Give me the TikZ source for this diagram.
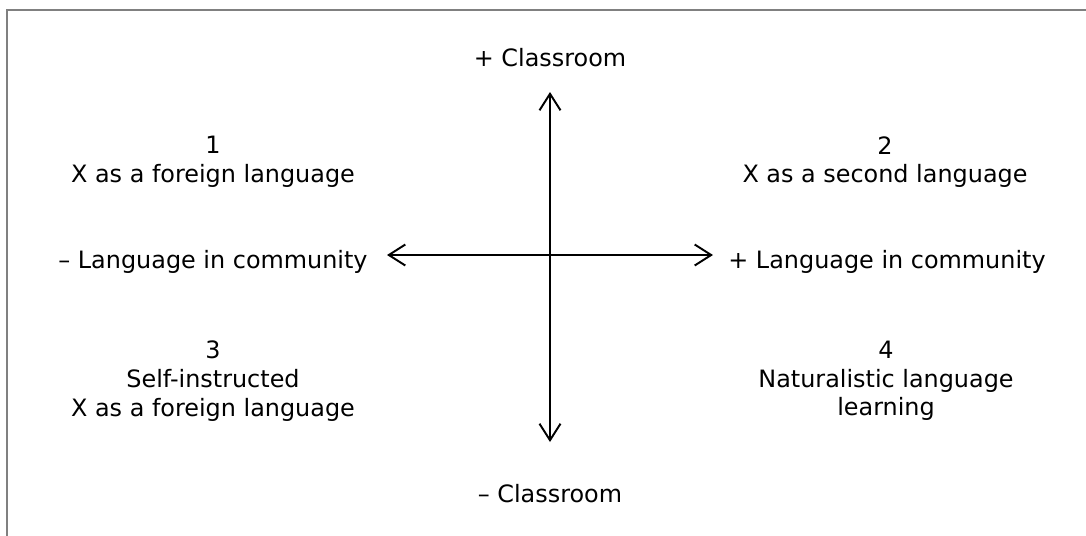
\documentclass[tikz,border=0pt]{standalone}
\usepackage{fontspec}
\setmainfont{DejaVu Sans}
\usetikzlibrary{arrows.meta}
\tikzset{
  quadtext/.style = {font = \fontsize{13.6}{16.3}\selectfont, align = center, inner sep = 0pt},
  axisarrow/.style = {line width = 1.1pt, {Straight Barb[length = 3.3mm, width = 4.2mm]}-{Straight Barb[length = 3.3mm, width = 4.2mm]}}
}
\begin{document}
\begin{tikzpicture}[x = 0.02cm, y = -0.02cm]
\useasboundingbox (0,0) rectangle (1086,535);
% frame, open on the right and at the bottom
\draw [draw = gray, line width = 0.04cm] (7,536) -- (7,10) -- (1087,10);
% the two axes
\coordinate (axtop) at (550,92);
\coordinate (axbottom) at (550,442);
\coordinate (axleft) at (387,255);
\coordinate (axright) at (713,255);
\draw [axisarrow] (axtop) -- (axbottom);
\draw [axisarrow] (axleft) -- (axright);
% axis labels
\node [quadtext] (plusclass) at (550,58) {+ Classroom};
\node [quadtext] (minusclass) at (550,494) {– Classroom};
\node [quadtext] (minuscomm) at (213,262) {– Language in community};
\node [quadtext] (pluscomm) at (887,262) {+ Language in community};
% the four quadrants
\node [quadtext] (quadone) at (213,162) {1\\X as a foreign language};
\node [quadtext] (quadtwo) at (885,162) {2\\X as a second language};
\node [quadtext] (quadthree) at (213,381) {3\\Self-instructed\\X as a foreign language};
\node [quadtext] (quadfour) at (886,381) {4\\Naturalistic language\\learning};
\end{tikzpicture}
\end{document}
